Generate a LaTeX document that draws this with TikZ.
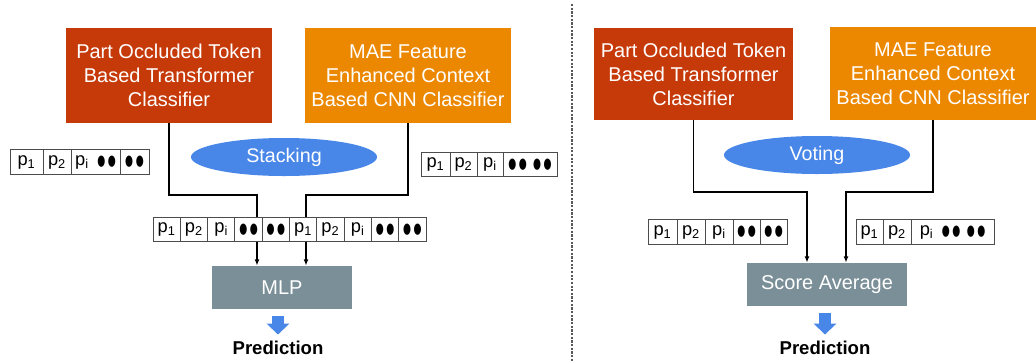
\documentclass[tikz,border=0pt]{standalone}
\usepackage{graphicx}
\usepackage{fontspec}
\setmainfont{Liberation Sans}
\newfontfamily\dotfont{DejaVu Sans}
\usetikzlibrary{arrows.meta,shapes.geometric}

\definecolor{clsred}{RGB}{198,58,10}
\definecolor{clsorange}{RGB}{236,136,0}
\definecolor{fusegray}{RGB}{122,143,152}
\definecolor{fuseblue}{RGB}{72,134,232}

\tikzset{
  clsbox/.style={fill=#1, minimum width=5.15cm, minimum height=2.38cm, inner sep=0pt,
    align=center, text=white, font=\fontsize{14.2}{17.1}\selectfont},
  fusebox/.style={fill=fusegray, minimum height=1.08cm, inner sep=0pt, text=white,
    font=\fontsize{14.2}{17}\selectfont},
  method/.style={ellipse, fill=fuseblue, minimum width=4.65cm, minimum height=0.95cm,
    inner sep=0pt, text=white, font=\fontsize{14}{17}\selectfont},
  cell/.style={draw=black!70, line width=0.6pt, inner sep=0pt, minimum height=0.61cm,
    font=\fontsize{13}{14}\selectfont},
  link/.style={line width=1.3pt},
  feed/.style={line width=1.3pt, -{Latex[length=4.5pt,width=3.5pt]}},
  fatarrow/.style={fuseblue, line width=0.28cm, shorten <=0.16cm, shorten >=0.16cm,
    -{Triangle[length=0.27cm,width=0.55cm]}},
  predtext/.style={inner sep=0pt, font=\bfseries\fontsize{13.2}{15}\selectfont},
  divider/.style={draw=black!65, line width=0.8pt, dash pattern=on 1.6pt off 1pt}
}

\newcommand{\pp}[1]{p\textsubscript{#1}}
\newcommand{\dt}{\scalebox{0.62}[1]{●}}
\newcommand{\dd}{{\dotfont\fontsize{10.5}{12}\selectfont\dt\kern1.8pt\dt}}
\newcommand{\ddpair}{\dd\hspace{4.5pt}\dd}

\begin{document}
\begin{tikzpicture}[x=0.025cm, y=-0.025cm]
  \useasboundingbox (0,0) rectangle (1036,362);

  % stacking
  \node[clsbox=clsred] (tfL) at (169,75.5) {Part Occluded Token\\Based Transformer\\Classifier};
  \node[clsbox=clsorange] (cnnL) at (408,75.5) {MAE Feature\\Enhanced Context\\Based CNN Classifier};
  \node[method] (stack) at (284,157) {Stacking};

  \foreach \x/\w/\t [count=\k] in {10/33/\pp1, 43/28/\pp2, 71/49/{\pp{i}\hspace{6pt}\dd}, 120/29/\dd}
    \node[cell, minimum width={\w*0.025cm}] (tokA\k) at (\x+\w/2,162) {\t};
  \foreach \x/\w/\t [count=\k] in {421/29/\pp1, 450/27/\pp2, 477/26/\pp{i}, 503/54/\ddpair}
    \node[cell, minimum width={\w*0.025cm}] (tokB\k) at (\x+\w/2,164.5) {\t};
  \foreach \t [count=\k] in {\pp1,\pp2,\pp{i},\dd,\dd,\pp1,\pp2,\pp{i},\dd,\dd}
    \node[cell, minimum width=0.6825cm] (cat\k) at (139.35+27.3*\k,229.5) {\t};

  \node[fusebox, minimum width=3.5cm] (mlp) at (282,287.5) {MLP};
  \node[predtext] (predL) at (278,348) {Prediction};

  \coordinate (jA) at (257,195);
  \coordinate (jB) at (306,195);
  \draw[link] (tfL.south) |- (jA) -- (jA |- cat4.north);
  \draw[link] (cnnL.south) |- (jB) -- (jB |- cat6.north);
  \draw[feed] (jA |- cat4.south) -- (jA |- mlp.north);
  \draw[feed] (jB |- cat6.south) -- (jB |- mlp.north);
  \draw[fatarrow] (predL.north |- mlp.south) -- (predL.north);

  \draw[divider] (572,4) -- (572,362);

  % voting
  \node[clsbox=clsred, minimum width=4.98cm, minimum height=2.3cm] (tfR) at (693.5,74) {Part Occluded Token\\Based Transformer\\Classifier};
  \node[clsbox=clsorange, minimum height=2.33cm] (cnnR) at (933,73.5) {MAE Feature\\Enhanced Context\\Based CNN Classifier};
  \node[method] (vote) at (817,155) {Voting};

  \foreach \x/\w/\t [count=\k] in {648/29/\pp1, 677/28/\pp2, 705/28/\pp{i}, 733/27/\dd, 760/27/\dd}
    \node[cell, minimum width={\w*0.025cm}] (tokC\k) at (\x+\w/2,232) {\t};
  \foreach \x/\w/\t [count=\k] in {856/27/\pp1, 883/28/\pp2, 911/83/{\pp{i}\hspace{6pt}\ddpair}}
    \node[cell, minimum width={\w*0.025cm}] (tokD\k) at (\x+\w/2,232) {\t};

  \node[fusebox, minimum width=4cm] (avg) at (827,284.5) {Score Average};
  \node[predtext] (predR) at (825,348) {Prediction};

  \coordinate (jC) at (807,192);
  \coordinate (jD) at (846,192);
  \draw[feed] (tfR.south) |- (jC) -- (jC |- avg.north);
  \draw[feed] (cnnR.south) |- (jD) -- (jD |- avg.north);
  \draw[fatarrow] (predR.north |- avg.south) -- (predR.north);
\end{tikzpicture}
\end{document}
